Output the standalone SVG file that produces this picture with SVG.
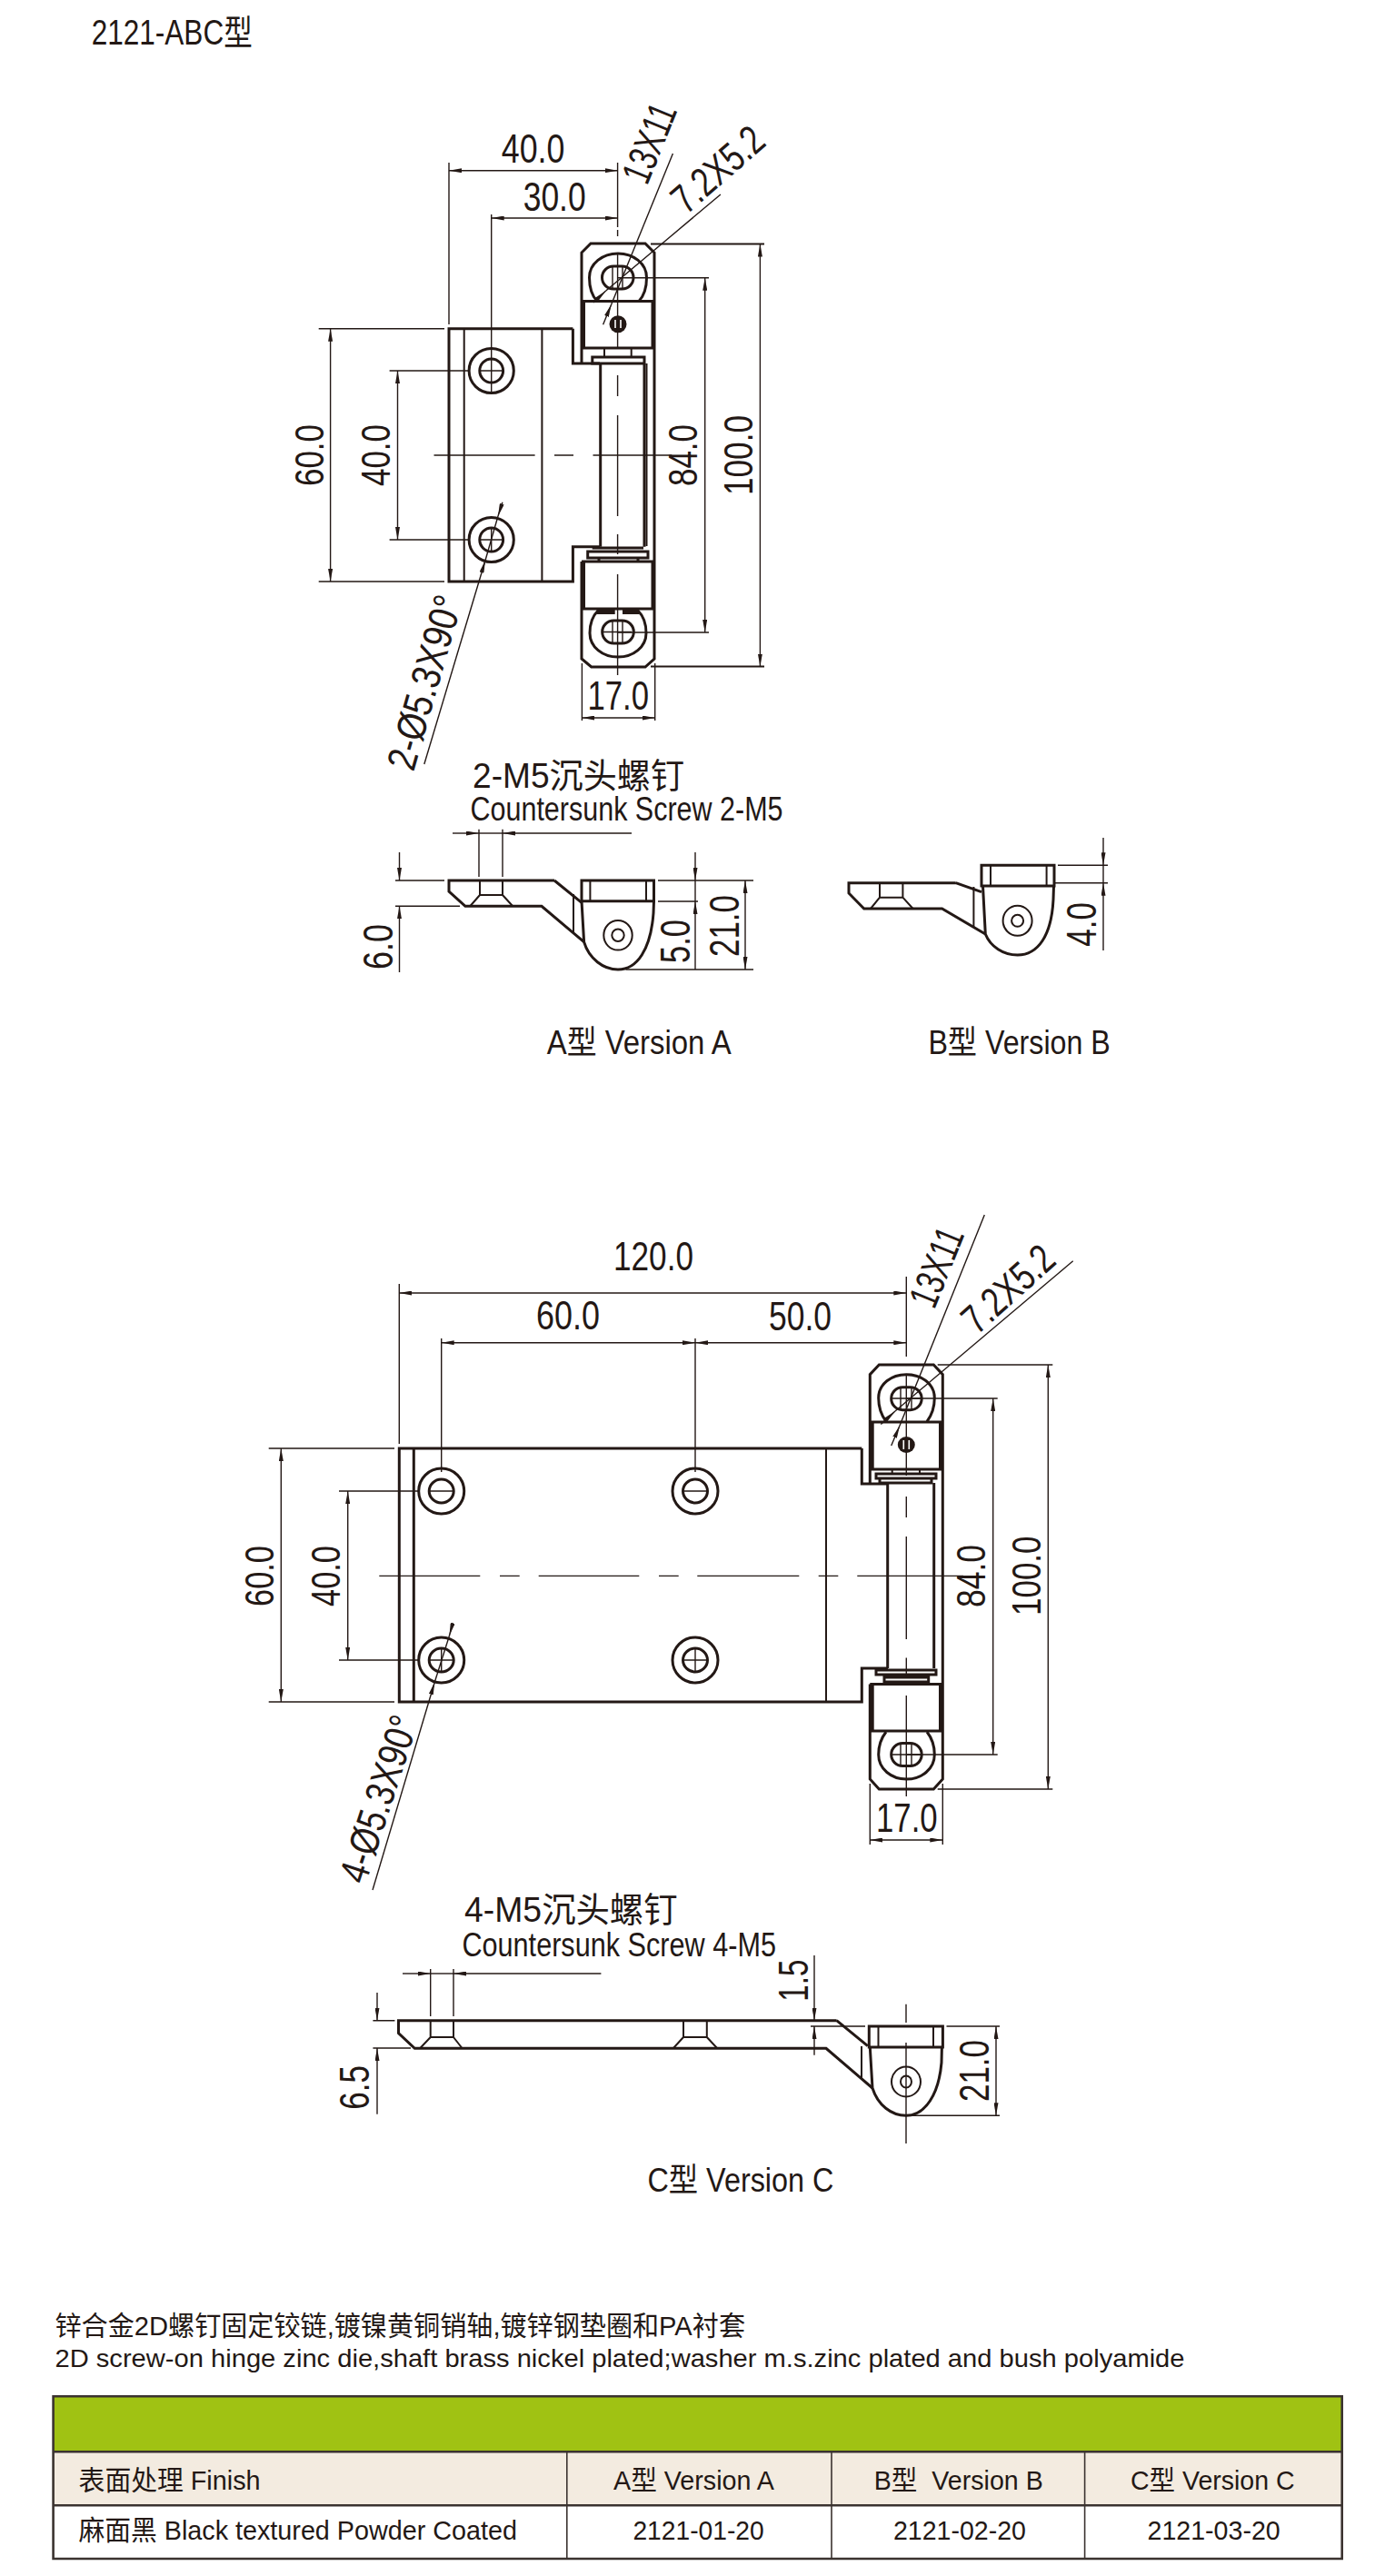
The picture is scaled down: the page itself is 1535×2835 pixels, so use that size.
<svg xmlns="http://www.w3.org/2000/svg" width="1535" height="2835" viewBox="0 0 1535 2835">
<style>
text{font-family:"Liberation Sans","Noto Sans CJK SC",sans-serif;fill:#231815}
.d{font-size:45px}.s{font-size:47px}.l{font-size:38px}.t{font-size:30px}
.o{fill:none;stroke:#231815;stroke-width:3;stroke-linejoin:miter}
.n{fill:none;stroke:#231815;stroke-width:2}
.h{fill:none;stroke:#231815;stroke-width:1.4}
.k{fill:#231815;stroke:none}
.a{marker-end:url(#a);marker-start:url(#a)}
.e{marker-end:url(#a)}
</style>
<defs>
<marker id="a" viewBox="0 0 14 5" refX="14" refY="2.5" markerWidth="14" markerHeight="5" markerUnits="userSpaceOnUse" orient="auto-start-reverse"><path d="M0 0L14 2.5L0 5z" fill="#231815"/></marker>
</defs>
<rect width="1535" height="2835" fill="#fff"/>
<text id="title" x="100.7" y="49" style="font-size:38px" textLength="177" lengthAdjust="spacingAndGlyphs">2121-ABC型</text>

<g id="view-a-top">
<path class="o" d="M630.4 361.7H494V640H630.4V601.7H660M630.4 361.7V400H660"/>
<path class="n" d="M510.7 361.7V640M596.4 361.7V640"/>
<ellipse class="o" cx="540.7" cy="408" rx="24.6" ry="24.5"/><ellipse class="o" cx="540.7" cy="408" rx="12.9" ry="13"/>
<ellipse class="o" cx="540.7" cy="594" rx="24.6" ry="24.5"/><ellipse class="o" cx="540.7" cy="594" rx="12.9" ry="13"/>
<path class="h" d="M527.8 408H553.6M527.8 594H553.6M540.7 581V607"/>
<path class="o" d="M640 400V278L650 268H710L720 278V725L710 734H650.7L640 725V618"/>
<path class="o" d="M640 331.5H720M640 383H720M640 618H720M640 670H720"/>
<path class="k" d="M640 331H644V383H640zM716.5 331H720.5V383H716.5zM640 618H644V670H640zM716.5 618H720.5V670H716.5zM656.7 671H676.7V676H656.7zM685 671H703V676H685z"/>
<path class="o" d="M660.7 400V601.7M709 400V601.7"/><path class="n" d="M711.5 400V601"/>
<path class="n" d="M665 383V393M694.7 383V393"/>
<path class="o" d="M651.8 393H709V400H651.8zM646.7 607H713V614H646.7zM651.7 603H708M659 614.5V618M702 614.5V618"/>
<path class="o" d="M657 331.5C651 325 648.5 316 648.5 305.5C648.5 290 663 279 680 279C697 279 711.5 290 711.5 305.5C711.5 316 709 325 703 331.5"/>
<path class="o" d="M658 672C652 678 649 686 649 696.7C649 712 663 723 680 723C697 723 711 712 711 696.7C711 686 708 678 702 672"/>
<rect class="o" x="662.5" y="293" width="34.5" height="25" rx="12.5"/>
<rect class="o" x="662.7" y="683" width="34.6" height="25" rx="12.5"/>
<path class="h" d="M674 293V318M685 293V318M674 683V708M685 683V708M662.7 695.5H695"/>
<circle class="k" cx="680" cy="356.7" r="9.5"/>
<path d="M677 352V361M683 352V361" stroke="#fff" stroke-width="1.6"/>
</g>

<g id="view-a-side">
<path class="o" d="M610 969H494V981L512 997.3H596L642.6 1036.7M610 969L640 993.3"/>
<path class="n" d="M528 969V985L517.5 997M553 969V985L564 997M528 985H553"/>
<path class="o" d="M640 969H719.5V991.7H640zM640 991.7L642.6 1036.7C648 1055 664 1067 680 1067C701 1067 716 1045 719 1005L719.5 991.7"/>
<path class="n" d="M649.4 969V991.7M711 969V991.7M631 984V1026"/>
<ellipse class="n" cx="680" cy="1029.3" rx="15.7" ry="16.3"/><circle class="n" cx="680" cy="1029.3" r="6.7"/>
</g>

<g id="view-b-side">
<path class="o" d="M1051.7 971.7H934V983L950.7 1000H1036.6L1084.3 1028M1051.7 971.7L1080 981.7"/>
<path class="n" d="M968 971.7V987.7L958 1000M993.4 971.7V987.7L1004.6 1000M968 987.7H993.4"/>
<path class="o" d="M1080 952.3H1160V975H1080zM1081.5 975L1084.3 1028C1090 1042 1104 1051 1119.6 1051C1142 1051 1157 1030 1159 990L1159.5 975"/>
<path class="n" d="M1090 952.3V975M1151.6 952.3V975M1071.4 976V1020"/>
<ellipse class="n" cx="1119.6" cy="1013.3" rx="16" ry="16.5"/><circle class="n" cx="1119.6" cy="1013.3" r="6.5"/>
</g>

<g id="view-c-top">
<path class="o" d="M948.3 1594H439.3V1873H948.3V1836H977M948.3 1594V1633H977"/>
<path class="o" d="M455.3 1594V1873"/><path class="n" d="M909 1594V1873"/>
<ellipse class="o" cx="485.7" cy="1641" rx="25" ry="25"/><ellipse class="o" cx="485.7" cy="1641" rx="13.5" ry="13"/>
<ellipse class="o" cx="485.7" cy="1827" rx="25" ry="25"/><ellipse class="o" cx="485.7" cy="1827" rx="13.5" ry="13"/>
<ellipse class="o" cx="765" cy="1641" rx="25" ry="25"/><ellipse class="o" cx="765" cy="1641" rx="13.5" ry="13"/>
<ellipse class="o" cx="765" cy="1827" rx="25" ry="25"/><ellipse class="o" cx="765" cy="1827" rx="13.5" ry="13"/>
<path class="h" d="M472 1641H499M472 1827H499M485.7 1814V1840M751.5 1641H778.5M751.5 1827H778.5M765 1814V1840"/>
<path class="o" d="M957.3 1632V1512.6L967.3 1502H1027.3L1037.3 1512.6V1958L1027.3 1969H967.3L957.3 1958V1853.6"/>
<path class="o" d="M957.3 1565H1037.3M957.3 1617H1037.3M957.3 1853.6H1037.3M957.3 1905H1037.3"/>
<path class="k" d="M957.3 1565H961.7V1617H957.3zM1033 1565H1037.3V1617H1033zM957.3 1853.6H961.7V1905H957.3zM1033 1853.6H1037.3V1905H1033z"/>
<path class="o" d="M976.7 1632V1836M1027.7 1632V1836"/>
<path class="n" d="M981.7 1617V1622M1012 1617V1622"/>
<path class="o" d="M964 1622H1030V1627H964zM968 1627H1025V1632H968zM964 1838H1030V1843H964zM973 1846H1021.7V1851H973z"/>
<path class="o" d="M975 1564.5C969.5 1557 966.7 1548 966.7 1538.5C966.7 1523 981 1512.7 997.3 1512.7C1014 1512.7 1028.3 1523 1028.3 1538.5C1028.3 1548 1025.5 1557 1020 1564.5"/>
<path class="o" d="M975 1906C969.5 1913 966.7 1922 966.7 1931C966.7 1947 981 1958 997.3 1958C1014 1958 1028.3 1947 1028.3 1931C1028.3 1922 1025.5 1913 1020 1906"/>
<rect class="o" x="980.7" y="1526.7" width="33.5" height="25" rx="12.5"/>
<rect class="o" x="980.7" y="1918.5" width="33.5" height="25" rx="12.5"/>
<path class="h" d="M991 1526.7V1551.7M1003 1526.7V1551.7M991 1918.5V1943.5M1003 1918.5V1943.5M980.7 1931H1014M980.7 1539H1014"/>
<ellipse class="k" cx="997.3" cy="1590" rx="9.5" ry="9"/>
<path d="M994.3 1585V1595M1000.3 1585V1595" stroke="#fff" stroke-width="1.6"/>
</g>

<g id="view-c-side">
<path class="o" d="M920.6 2223.7H438.5V2237.7L456.3 2254.3H909L960 2298M920.6 2223.7L954.8 2251.7"/>
<path class="n" d="M473.7 2223.7V2242L462.4 2254M499 2223.7V2242L508.4 2254M473.7 2242H499M752 2223.7V2242L741 2254M777.8 2223.7V2242L789 2254M752 2242H777.8"/>
<path class="o" d="M956.3 2230H1037.4V2253H956.3zM957.3 2253L960 2298C966 2317 981 2328.3 997 2328.3C1018 2328.3 1033 2305 1036 2270L1036.4 2253"/>
<path class="n" d="M966.5 2230V2253M1027 2230V2253M948 2252V2287"/>
<ellipse class="n" cx="997" cy="2291" rx="16" ry="16.5"/><ellipse class="n" cx="997" cy="2291" rx="6" ry="6.5"/>
</g>

<g id="connectors">
<!-- view A top -->
<path class="h" d="M494 179V357M679.6 179V250M679.6 253V260M540.7 236V433M679.6 280V383M679.6 413V436M679.6 457V568M679.6 588V610M679.6 632V743"/>
<path class="h" d="M477.5 501H588.6M610 501H631M652.5 501H739.3"/>
<path class="h a" d="M494 187.7H679.6"/><path class="h a" d="M540.7 240H679.6"/>
<path class="h" d="M350.7 361.7H489M350.7 640H489M428.6 408H516M428.6 594H516M680 305.7H780M680 696H780"/>
<path class="n" d="M716 268.5H841M716 733.5H841"/>
<path class="h a" d="M363.6 361.7V640"/><path class="h a" d="M437.5 408V594"/>
<path class="h a" d="M775.7 305.7V696"/><path class="h a" d="M836.4 268.5V733.5"/>
<path class="h" d="M640.4 730V793M720.7 730V793"/><path class="h a" d="M640.4 790H720.7"/>
<path class="h e" d="M663.6 357.3L672.7 335"/><path class="h" d="M672.7 335L740.4 169"/>
<path class="h e" d="M652.9 333L666.7 320"/><path class="h" d="M666.7 320L792.9 214"/>
<path class="h e" d="M466.8 841L534 616.7"/><path class="h e" d="M552.9 552.7L548 568"/><path class="h" d="M534 616.7L548 568"/>
<!-- view A side -->
<path class="h" d="M527 912.7V965M553 912.7V965M435 969H489M435 997.3H506M724 969H829M724 992H768M688.6 1067H829"/>
<path class="h e" d="M498 917H527"/><path class="h e" d="M695 917H553"/><path class="h" d="M527 917H553"/>
<path class="h e" d="M439.5 938V969"/><path class="h e" d="M439.5 1070V997.3"/>
<path class="h e" d="M765 938V969"/><path class="h e" d="M765 1067V992"/><path class="h" d="M765 969V992"/>
<path class="h a" d="M820 969V1067"/>
<!-- view B side -->
<path class="h" d="M1164 952.3H1219M1160 971.7H1219"/>
<path class="h e" d="M1214 922V952.3"/><path class="h e" d="M1214 1046V971.7"/><path class="h" d="M1214 952.3V971.7"/>
<!-- view C top -->
<path class="h" d="M439.3 1413V1589M485.7 1473V1620M765 1473V1620M997.3 1405V1493M997.3 1512.6V1624M997.3 1647V1670M997.3 1691V1804M997.3 1824.6V1845M997.3 1866V1977"/>
<path class="h" d="M417.3 1734.4H528.3M550 1734.4H571.7M592.7 1734.4H703.3M725 1734.4H746.7M767.3 1734.4H879.3M900.7 1734.4H922.3M943.3 1734.4H1060"/>
<path class="h a" d="M439.3 1423H997.3"/><path class="h a" d="M485.7 1477.7H765"/><path class="h a" d="M765 1477.7H997.3"/>
<path class="h" d="M295.7 1594H434M295.7 1873H434M373 1641H461M373 1827H461M997 1539H1097.7M997 1931H1097.7M1031.7 1502H1158.3M1031.7 1969H1158.3"/>
<path class="h a" d="M309.3 1594V1873"/><path class="h a" d="M382.7 1641V1827"/>
<path class="h a" d="M1092.7 1539V1931"/><path class="h a" d="M1153.3 1502V1969"/>
<path class="h" d="M957.3 1963V2030M1037.3 1963V2030"/><path class="h a" d="M957.3 2025H1037.3"/>
<path class="h e" d="M980.7 1591L990 1569"/><path class="h" d="M990 1569L1083.3 1337"/>
<path class="h e" d="M969.3 1567.5L985 1553"/><path class="h" d="M985 1553L1180.7 1387.7"/>
<path class="h e" d="M410 2080L478.3 1851.3"/><path class="h e" d="M498.3 1786L494.5 1800"/><path class="h" d="M494.5 1800L478.3 1851.3"/>
<!-- view C side -->
<path class="h" d="M473.7 2167V2219M499 2167V2219M410.4 2223.7H434.4M410.4 2254H452M892 2230H952M1041.5 2230H1100M998 2328.3H1100M997 2205.7V2226M997 2248V2359"/>
<path class="h e" d="M443 2172H473.7"/><path class="h e" d="M661.4 2172H499"/><path class="h" d="M473.7 2172H499"/>
<path class="h e" d="M415 2193V2223.7"/><path class="h e" d="M415 2326.7V2254"/>
<path class="h e" d="M896 2152V2223.7"/><path class="h e" d="M896 2261.7V2230"/>
<path class="h a" d="M1096 2230V2328.3"/>
</g>

<g id="labels-a">
<text class="d" x="551.8" y="179" textLength="69.6" lengthAdjust="spacingAndGlyphs">40.0</text>
<text class="d" x="575.7" y="231.7" textLength="69" lengthAdjust="spacingAndGlyphs">30.0</text>
<text class="d" transform="translate(356 535) rotate(-90)" textLength="68" lengthAdjust="spacingAndGlyphs">60.0</text>
<text class="d" transform="translate(428.6 535) rotate(-90)" textLength="68" lengthAdjust="spacingAndGlyphs">40.0</text>
<text class="d" transform="translate(767 535) rotate(-90)" textLength="68" lengthAdjust="spacingAndGlyphs">84.0</text>
<text class="d" transform="translate(828 545) rotate(-90)" textLength="88" lengthAdjust="spacingAndGlyphs">100.0</text>
<text class="d" x="646.4" y="781" textLength="67.6" lengthAdjust="spacingAndGlyphs">17.0</text>
<text class="d" transform="translate(712 205) rotate(-68)" textLength="90" lengthAdjust="spacingAndGlyphs">13X11</text>
<text class="d" transform="translate(755 237) rotate(-41)" textLength="119" lengthAdjust="spacingAndGlyphs">7.2X5.2</text>
<text class="d" transform="translate(455 850) rotate(-74)" textLength="197" lengthAdjust="spacingAndGlyphs">2-Ø5.3X90°</text>
<text class="l" x="520" y="867" textLength="233" lengthAdjust="spacingAndGlyphs">2-M5沉头螺钉</text>
<text style="font-size:36px" x="517.5" y="902.7" textLength="344" lengthAdjust="spacingAndGlyphs">Countersunk Screw 2-M5</text>
<text class="s" transform="translate(431.6 1067) rotate(-90)" textLength="50" lengthAdjust="spacingAndGlyphs">6.0</text>
<text class="s" transform="translate(758.8 1060) rotate(-90)" textLength="48" lengthAdjust="spacingAndGlyphs">5.0</text>
<text class="s" transform="translate(813 1053) rotate(-90)" textLength="68" lengthAdjust="spacingAndGlyphs">21.0</text>
<text class="s" transform="translate(1206 1041.7) rotate(-90)" textLength="48.7" lengthAdjust="spacingAndGlyphs">4.0</text>
<text style="font-size:36px" x="601.7" y="1160" textLength="203" lengthAdjust="spacingAndGlyphs">A型 Version A</text>
<text style="font-size:36px" x="1021.4" y="1160" textLength="200.4" lengthAdjust="spacingAndGlyphs">B型 Version B</text>
</g>

<g id="labels-c">
<text class="d" x="675" y="1398" textLength="88" lengthAdjust="spacingAndGlyphs">120.0</text>
<text class="d" x="590" y="1463" textLength="70" lengthAdjust="spacingAndGlyphs">60.0</text>
<text class="d" x="846" y="1464" textLength="69" lengthAdjust="spacingAndGlyphs">50.0</text>
<text class="d" transform="translate(300.7 1768) rotate(-90)" textLength="67" lengthAdjust="spacingAndGlyphs">60.0</text>
<text class="d" transform="translate(374 1768) rotate(-90)" textLength="67" lengthAdjust="spacingAndGlyphs">40.0</text>
<text class="d" transform="translate(1084 1769) rotate(-90)" textLength="69" lengthAdjust="spacingAndGlyphs">84.0</text>
<text class="d" transform="translate(1145 1778) rotate(-90)" textLength="87.5" lengthAdjust="spacingAndGlyphs">100.0</text>
<text class="d" x="964" y="2016" textLength="67.7" lengthAdjust="spacingAndGlyphs">17.0</text>
<text class="d" transform="translate(1028 1442) rotate(-68)" textLength="90" lengthAdjust="spacingAndGlyphs">13X11</text>
<text class="d" transform="translate(1075 1470) rotate(-42)" textLength="120" lengthAdjust="spacingAndGlyphs">7.2X5.2</text>
<text class="d" transform="translate(402 2075) rotate(-72)" textLength="190" lengthAdjust="spacingAndGlyphs">4-Ø5.3X90°</text>
<text class="l" x="511" y="2115" textLength="234.6" lengthAdjust="spacingAndGlyphs">4-M5沉头螺钉</text>
<text style="font-size:36px" x="508.4" y="2152.7" textLength="345.6" lengthAdjust="spacingAndGlyphs">Countersunk Screw 4-M5</text>
<text class="s" transform="translate(406 2321.7) rotate(-90)" textLength="48.7" lengthAdjust="spacingAndGlyphs">6.5</text>
<text class="s" transform="translate(888.5 2202.7) rotate(-90)" textLength="46" lengthAdjust="spacingAndGlyphs">1.5</text>
<text class="s" transform="translate(1087.5 2313) rotate(-90)" textLength="68" lengthAdjust="spacingAndGlyphs">21.0</text>
<text style="font-size:36px" x="712.4" y="2411.7" textLength="205" lengthAdjust="spacingAndGlyphs">C型 Version C</text>
</g>

<g id="spec">
<text class="t" x="60.5" y="2570" textLength="759.5" lengthAdjust="spacingAndGlyphs">锌合金2D螺钉固定铰链,镀镍黄铜销轴,镀锌钢垫圈和PA衬套</text>
<text style="font-size:28px" x="60.5" y="2605" textLength="1243" lengthAdjust="spacingAndGlyphs">2D screw-on hinge zinc die,shaft brass nickel plated;washer m.s.zinc plated and bush polyamide</text>
</g>

<g id="table">
<rect x="58.6" y="2637.3" width="1418" height="61" fill="#a0c213"/>
<rect x="58.6" y="2698.3" width="1418" height="59" fill="#f3ebe0"/>
<rect x="58.6" y="2757.3" width="1418" height="58.7" fill="#fff"/>
<path fill="none" stroke="#3b3330" stroke-width="2.6" d="M58.6 2637.3H1476.7V2816H58.6zM58.6 2698.3H1476.7M58.6 2757.3H1476.7"/>
<path fill="none" stroke="#3b3330" stroke-width="1.6" d="M623.8 2698.3V2816M915 2698.3V2816M1193.6 2698.3V2816"/>
<text class="t" x="86.6" y="2740" textLength="200" lengthAdjust="spacingAndGlyphs">表面处理 Finish</text>
<text class="t" x="675" y="2740" textLength="177" lengthAdjust="spacingAndGlyphs">A型 Version A</text>
<text class="t" x="961.8" y="2740" textLength="186" lengthAdjust="spacingAndGlyphs" xml:space="preserve">B型  Version B</text>
<text class="t" x="1243.9" y="2740" textLength="180.7" lengthAdjust="spacingAndGlyphs">C型 Version C</text>
<text class="t" x="86.6" y="2795" textLength="482.3" lengthAdjust="spacingAndGlyphs">麻面黑 Black textured Powder Coated</text>
<text class="t" x="696.4" y="2795" textLength="144.3" lengthAdjust="spacingAndGlyphs">2121-01-20</text>
<text class="t" x="983" y="2795" textLength="146" lengthAdjust="spacingAndGlyphs">2121-02-20</text>
<text class="t" x="1262.5" y="2795" textLength="146.2" lengthAdjust="spacingAndGlyphs">2121-03-20</text>
</g>
</svg>
